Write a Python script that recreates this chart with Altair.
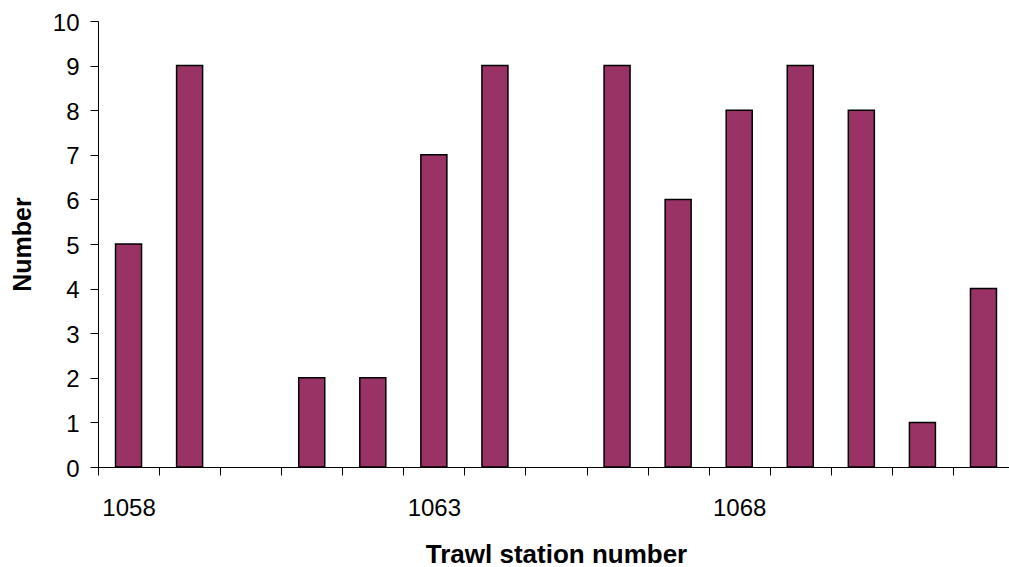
import altair as alt
import pandas as pd

stations = ["1058", "1059", "1060", "1061", "1062", "1063", "1064", "1065",
            "1066", "1067", "1068", "1069", "1070", "1071", "1072"]
counts = [5, 9, 0, 2, 2, 7, 9, 0, 9, 6, 8, 9, 8, 1, 4]
shown_labels = ["1058", "1063", "1068"]
y_ticks = [0, 1, 2, 3, 4, 5, 6, 7, 8, 9, 10]

df = pd.DataFrame({"station": stations, "count": counts})

FONT = "Liberation Sans"
label_list = "[" + ",".join("'" + s + "'" for s in shown_labels) + "]"

chart = (
    alt.Chart(df)
    .mark_bar(
        width=alt.RelativeBandSize(0.426),
        fill="#993366",
        stroke="#000000",
        strokeWidth=1.5,
    )
    .encode(
        x=alt.X(
            "station:N",
            sort=stations,
            scale=alt.Scale(domain=stations, range=[0, 916], paddingInner=0, paddingOuter=0),
            axis=alt.Axis(
                title="Trawl station number",
                titleFont=FONT,
                titleFontSize=26,
                titleFontWeight="bold",
                titleColor="#000000",
                titleX=458,
                titleY=95,
                titleBaseline="alphabetic",
                titleAnchor="middle",
                labelExpr="indexof(" + label_list + ", datum.label) >= 0 ? datum.label : ''",
                labelFont=FONT,
                labelFontSize=24,
                labelColor="#000000",
                labelAngle=0,
                labelBaseline="alphabetic",
                labelPadding=40,
                labelFlush=False,
                labelOverlap=False,
                tickBand="extent",
                ticks=True,
                tickSize=8,
                tickColor="#000000",
                domainColor="#000000",
                domainWidth=1,
                tickWidth=1,
                grid=False,
            ),
        ),
        y=alt.Y(
            "count:Q",
            scale=alt.Scale(domain=[0, 10], nice=False),
            axis=alt.Axis(
                title="Number",
                titleFont=FONT,
                titleFontSize=25,
                titleFontWeight="bold",
                titleColor="#000000",
                titleX=-68,
                titleY=223,
                titleAngle=270,
                titleBaseline="alphabetic",
                titleAnchor="middle",
                values=y_ticks,
                labelFont=FONT,
                labelFontSize=24,
                labelColor="#000000",
                labelPadding=11,
                labelOffset=2,
                labelFlush=False,
                tickSize=8,
                tickColor="#000000",
                domainColor="#000000",
                grid=False,
            ),
        ),
    )
    .transform_filter("datum.count > 0")
    .properties(
        width=911,
        height=446,
        background="#ffffff",
        view=alt.ViewBackground(stroke="#ffffff", strokeWidth=0, strokeOpacity=0),
        autosize=alt.AutoSizeParams(type="none"),
        padding={"left": 98, "top": 21, "right": 0, "bottom": 100},
    )
    .configure_view(strokeWidth=0, stroke="#ffffff", strokeOpacity=0)
    .configure_axis(grid=False)
)

chart.save("out.html", embed_options={"renderer": "svg", "actions": False})
